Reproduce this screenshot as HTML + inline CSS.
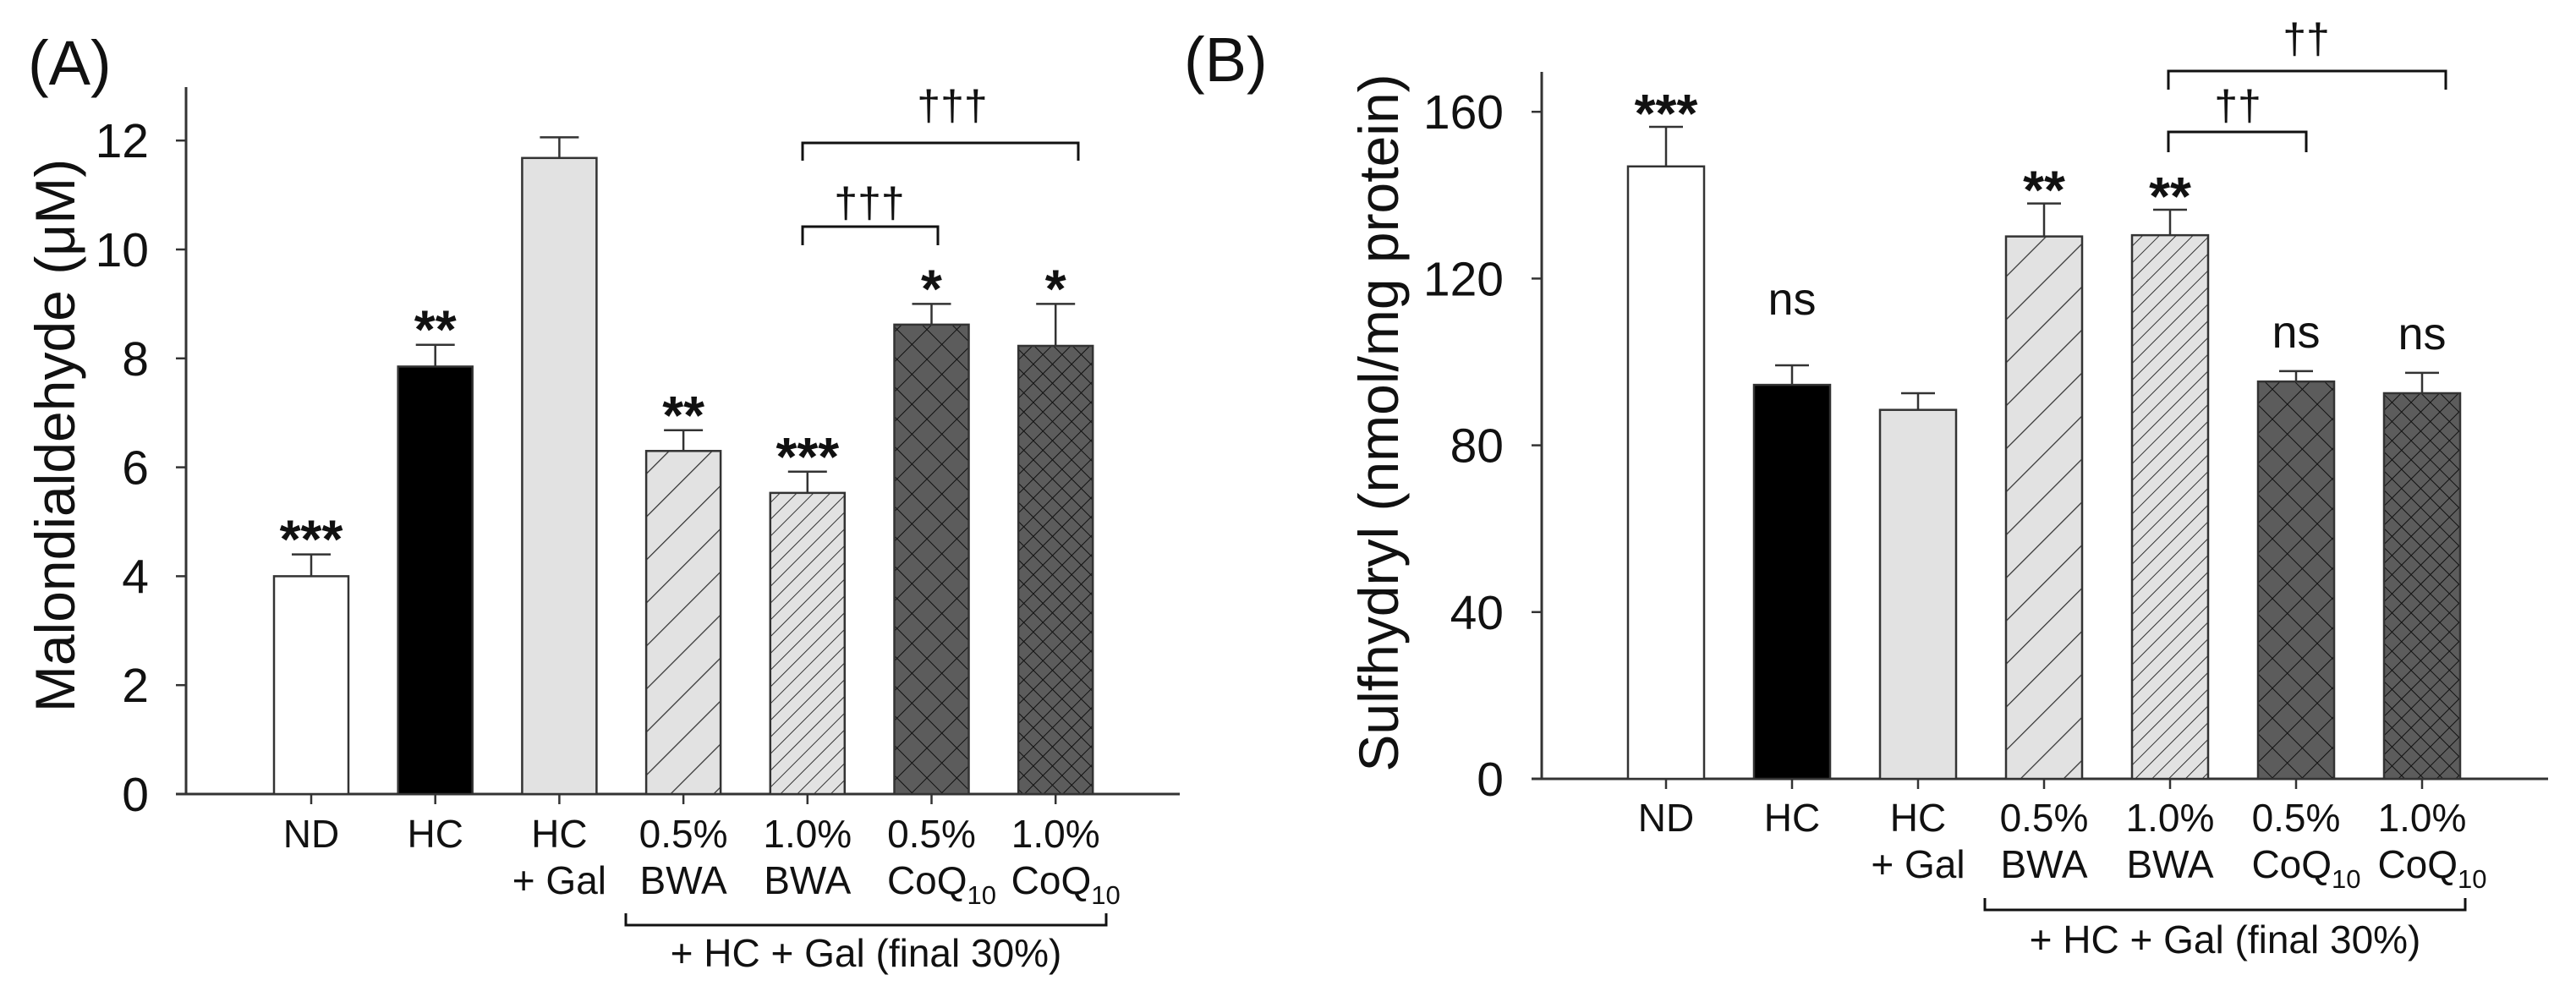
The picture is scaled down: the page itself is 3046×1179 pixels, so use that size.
<!DOCTYPE html>
<html><head><meta charset="utf-8">
<style>
html,body{margin:0;padding:0;background:#fff;}
svg{display:block;font-family:"Liberation Sans",Arial,sans-serif;}
</style></head>
<body>
<svg id="fig" width="3046" height="1179" viewBox="0 0 3046 1179" xmlns="http://www.w3.org/2000/svg">
<defs>
  <pattern id="hatchSparse" patternUnits="userSpaceOnUse" width="36" height="36" patternTransform="rotate(45)">
    <rect width="36" height="36" fill="#e2e2e2"/><line x1="0" y1="0" x2="0" y2="36" stroke="#333" stroke-width="2.5"/>
  </pattern>
  <pattern id="hatchDense" patternUnits="userSpaceOnUse" width="14" height="14" patternTransform="rotate(45)">
    <rect width="14" height="14" fill="#e2e2e2"/><line x1="0" y1="0" x2="0" y2="14" stroke="#333" stroke-width="2"/>
  </pattern>
  <pattern id="crossSparse" patternUnits="userSpaceOnUse" width="25" height="25" patternTransform="rotate(45)">
    <rect width="25" height="25" fill="#5c5c5c"/><line x1="0" y1="0" x2="0" y2="25" stroke="#111" stroke-width="2"/><line x1="0" y1="0" x2="25" y2="0" stroke="#111" stroke-width="2"/>
  </pattern>
  <pattern id="crossDense" patternUnits="userSpaceOnUse" width="16" height="16" patternTransform="rotate(45)">
    <rect width="16" height="16" fill="#5c5c5c"/><line x1="0" y1="0" x2="0" y2="16" stroke="#111" stroke-width="2"/><line x1="0" y1="0" x2="16" y2="0" stroke="#111" stroke-width="2"/>
  </pattern>
</defs>
<text x="33" y="100" font-size="74" fill="#111">(A)</text>
<text x="1400" y="96" font-size="74" fill="#111">(B)</text>
<g id="panelA"></g>
<g id="panelB"></g>
</svg>
<script>
// ---- data ----
const categories = ["ND","HC","HC|+ Gal","0.5%|BWA","1.0%|BWA","0.5%|CoQ","1.0%|CoQ"];
const mdaValues = [4.0, 7.85, 11.68, 6.30, 5.53, 8.62, 8.23];
const mdaErrors = [0.40, 0.40, 0.38, 0.38, 0.39, 0.38, 0.77];
const mdaTicks = [0, 2, 4, 6, 8, 10, 12];
const mdaMarks = ["***","**","","**","***","*","*"];
const shValues = [146.9, 94.5, 88.5, 130.1, 130.4, 95.3, 92.5];
const shErrors = [9.5, 4.7, 4.0, 7.9, 6.1, 2.5, 4.9];
const shTicks = [0, 40, 80, 120, 160];
const shMarks = ["***","ns","","**","**","ns","ns"];
const fills = ["#ffffff","#000000","#e2e2e2","url(#hatchSparse)","url(#hatchDense)","url(#crossSparse)","url(#crossDense)"];

const NS = "http://www.w3.org/2000/svg";
function mk(parent, tag, attrs, text){
  const e = document.createElementNS(NS, tag);
  for (const k in attrs) e.setAttribute(k, attrs[k]);
  if (text !== undefined) e.textContent = text;
  parent.appendChild(e);
  return e;
}

function drawPanel(g, cfg){
  const yS = v => cfg.base - v * cfg.ppu;
  const xS = i => cfg.x0c + i * cfg.step;
  let ax = mk(g,"line",{x1:cfg.axX,y1:cfg.axTop,x2:cfg.axX,y2:cfg.base+1,stroke:"#333","stroke-width":3});
  
  
  let xa = mk(g,"line",{x1:cfg.axX-12,y1:cfg.base,x2:cfg.axEnd,y2:cfg.base,stroke:"#333","stroke-width":3});
  
  
  cfg.ticks.forEach(t=>{
    const y = yS(t);
    const tl = mk(g,"line",{x1:cfg.axX-12,y1:y,x2:cfg.axX,y2:y,stroke:"#333","stroke-width":2.5});
    
    
    const tx = mk(g,"text",{x:cfg.tickLabelX,y:y+20,"font-size":57,"text-anchor":"end",fill:"#111"}, String(t));
    
    
  });
  const tt = mk(g,"text",{x:0,y:0,"font-size":66,"text-anchor":"middle",fill:"#111",transform:`translate(${cfg.titleX},${cfg.titleY}) rotate(-90)`}, cfg.title);
  
  
  cfg.values.forEach((v,i)=>{
    const cx = xS(i), top = yS(v), et = yS(v + cfg.errors[i]);
    const eb = mk(g,"line",{x1:cx,y1:top,x2:cx,y2:et,stroke:"#333","stroke-width":2.5});
    
    
    const ec = mk(g,"line",{x1:cx-cfg.cap/2,y1:et,x2:cx+cfg.cap/2,y2:et,stroke:"#333","stroke-width":2.5});
    
    
    const r = mk(g,"rect",{x:cx-cfg.bw/2,y:top,width:cfg.bw,height:cfg.base-top,fill:fills[i],stroke:"#333","stroke-width":2.5});
    
    
    const tk = mk(g,"line",{x1:cx,y1:cfg.base,x2:cx,y2:cfg.base+12,stroke:"#333","stroke-width":2.5});
    
    
    const m = cfg.marks[i];
    if (m){
      let y, fs, fw;
      if (m === "ns"){ y = et - cfg.nsGap[i]; fs = 54; fw = "normal"; } else { y = et + cfg.starGap; fs = 64; fw = "bold"; }
      const at = mk(g,"text",{x:cx,y:y,"font-size":fs,"font-weight":fw,"text-anchor":"middle",fill:"#111"}, m);
      
      
    }
    const parts = categories[i].split("|");
    const l1 = mk(g,"text",{x:cx,y:cfg.lab1,"font-size":46,"text-anchor":"middle",fill:"#111"}, parts[0]);
    
    
    if (parts[1]){
      const l2 = mk(g,"text",{x:cx,y:cfg.lab2,"font-size":46,"text-anchor":"middle",fill:"#111"});
      
      
      l2.appendChild(document.createTextNode(parts[1]));
      if (parts[1] === "CoQ"){
        const s = mk(l2,"tspan",{"font-size":31,dy:12}, "10");
        
        
        l2.setAttribute("x", cx + 12);
      }
    }
  });
  cfg.brackets.forEach(b=>{
    const p = mk(g,"path",{d:`M${b.x1},${b.y2} V${b.y} H${b.x2} V${b.y2}`,fill:"none",stroke:"#111","stroke-width":3});
    
    
    const t = mk(g,"text",{x:(b.tx),y:b.ty,"font-size":50,"text-anchor":"middle",fill:"#111"}, b.label);
    
    
  });
  const gb = cfg.group;
  const gp = mk(g,"path",{d:`M${gb.x1},${gb.y-14} V${gb.y} H${gb.x2} V${gb.y-14}`,fill:"none",stroke:"#111","stroke-width":3});
  
  
  const gt = mk(g,"text",{x:(gb.x1+gb.x2)/2,y:gb.ty,"font-size":46,"text-anchor":"middle",fill:"#111"}, "+ HC + Gal (final 30%)");
  
  
}

drawPanel(document.getElementById("panelA"), {
  base:939, ppu:64.4, axX:220, axTop:103, axEnd:1395, x0c:368, step:146.7, bw:88, cap:46,
  ticks:mdaTicks, values:mdaValues, errors:mdaErrors, marks:mdaMarks, nsGap:[0,0,0,0,0,0,0], starGap:4,
  tickLabelX:176, title:"Malondialdehyde (\u03bcM)", titleX:88, titleY:515,
  lab1:1002, lab2:1057,
  brackets:[{x1:949,x2:1275,y:169,y2:190,tx:1126,ty:142,label:"\u2020\u2020\u2020"},
            {x1:949,x2:1109,y:268,y2:290,tx:1028,ty:257,label:"\u2020\u2020\u2020"}],
  group:{x1:740,x2:1308,y:1094,ty:1143}
});
drawPanel(document.getElementById("panelB"), {
  base:921, ppu:4.93, axX:1823, axTop:85, axEnd:3013, x0c:1970, step:149, bw:90, cap:40,
  ticks:shTicks, values:shValues, errors:shErrors, marks:shMarks, nsGap:[0,60,0,0,0,28,28], starGap:6,
  tickLabelX:1778, title:"Sulfhydryl (nmol/mg protein)", titleX:1653, titleY:500,
  lab1:983, lab2:1038,
  brackets:[{x1:2564,x2:2892,y:84,y2:106,tx:2727,ty:63,label:"\u2020\u2020"},
            {x1:2564,x2:2727,y:156,y2:180,tx:2646,ty:142,label:"\u2020\u2020"}],
  group:{x1:2347,x2:2915,y:1076,ty:1127}
});
</script>
</body></html>
